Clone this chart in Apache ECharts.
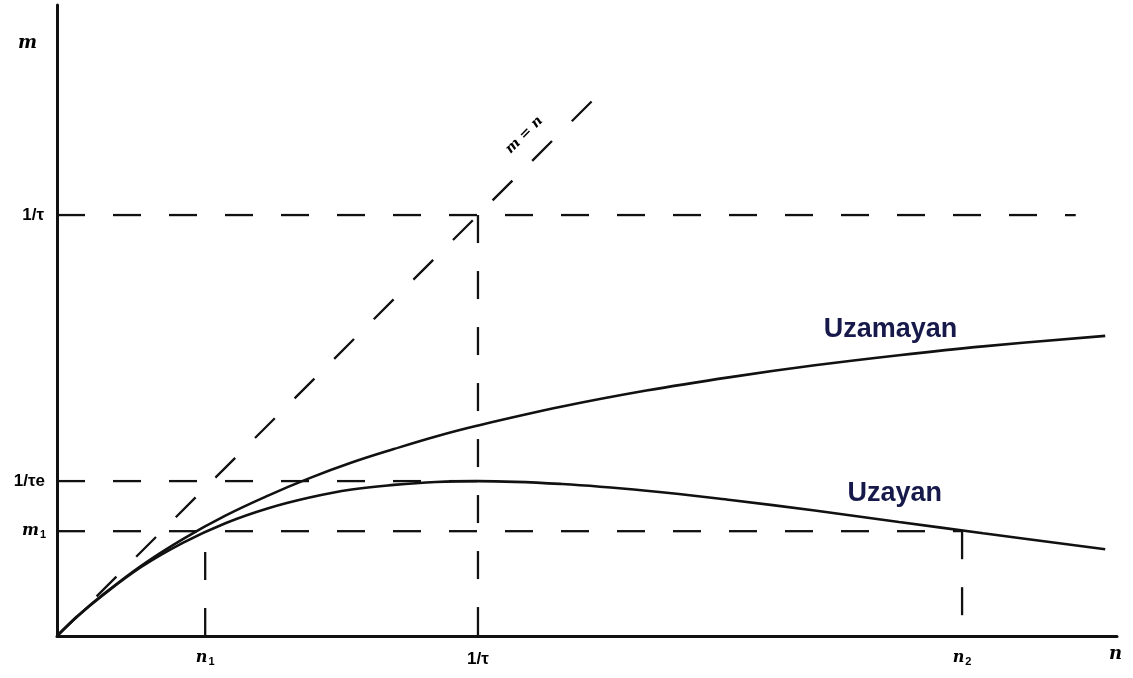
<!DOCTYPE html>
<html>
<head>
<meta charset="utf-8">
<script src="https://cdn.jsdelivr.net/npm/echarts@6/dist/echarts.min.js"></script>
<style>
  html, body { margin: 0; padding: 0; background: #fff; }
  #chart { width: 1133px; height: 678px; }
</style>
</head>
<body>
<div id="chart"></div>
<script>
// Dead-time counting models: recorded rate m versus true rate n (units of 1/τ)
const nValues = [0, 0.05, 0.1, 0.2, 0.3, 0.4, 0.5, 0.6, 0.7, 0.8, 0.9, 1.0, 1.2, 1.4, 1.6, 1.8, 2.0, 2.2, 2.49];
// Non-paralyzable ("Uzamayan") curve
const uzamayan = [0, 0.048, 0.091, 0.167, 0.231, 0.286, 0.333, 0.375, 0.412, 0.444, 0.474, 0.500, 0.545, 0.583, 0.615, 0.643, 0.667, 0.688, 0.713];
// Paralyzable ("Uzayan") curve
const uzayan = [0, 0.048, 0.090, 0.164, 0.222, 0.268, 0.303, 0.329, 0.348, 0.359, 0.366, 0.368, 0.361, 0.345, 0.323, 0.298, 0.271, 0.244, 0.206];

// Marked levels
const invTau = 1.0;       // 1/τ
const invTauE = 0.368;    // 1/τe
const m1 = 0.249;         // m₁
const n1 = 0.352;         // n₁
const n2 = 2.15;          // n₂
const identityEnd = 1.29; // end of the m = n guide
const refLineEnd = 2.42;  // end of the 1/τ horizontal guide

const xMax = 2.518;
const yMax = 1.499;

const curveA = nValues.map((n, i) => [n, uzamayan[i]]);
const curveB = nValues.map((n, i) => [n, uzayan[i]]);

const dash = { color: '#111', width: 2.3, type: [28, 28], cap: 'butt' };
const solid = { color: '#111', width: 2.6 };

function guide(data) {
  return { type: 'line', data, symbol: 'none', lineStyle: dash, silent: true, z: 3 };
}

const tickFont = { fontFamily: 'Liberation Sans', fontWeight: 'bold', fontSize: 17, color: '#000' };
const italFont = { fontFamily: 'DejaVu Serif', fontStyle: 'italic', fontWeight: 'bold', fontSize: 16, color: '#000' };

// invisible anchor point carrying a text label at data coordinates
function textMark(x, y, text, pos, dist, labelExtra) {
  return {
    type: 'scatter', symbolSize: 0, silent: true, z: 5,
    itemStyle: { opacity: 1 },
    data: [[x, y]],
    label: Object.assign({ show: true, position: pos, distance: dist, formatter: text }, tickFont, labelExtra || {})
  };
}

const subRich = {
  rich: {
    v: italFont,
    s: { fontFamily: 'Liberation Sans', fontWeight: 'bold', fontSize: 11, color: '#000', padding: [8, 0, 0, 1] }
  }
};

const nameFont = { fontFamily: 'Liberation Sans', fontWeight: 'bold', fontSize: 27, color: '#16194a' };

const chart = echarts.init(document.getElementById('chart'));
chart.setOption({
  animation: false,
  backgroundColor: '#fff',
  grid: { left: 57, right: 16, top: 5, bottom: 42 },
  xAxis: {
    type: 'value', min: 0, max: xMax,
    axisLine: { show: true, onZero: false, lineStyle: { color: '#111', width: 3 } },
    axisTick: { show: false }, axisLabel: { show: false }, splitLine: { show: false }
  },
  yAxis: {
    type: 'value', min: 0, max: yMax,
    axisLine: { show: true, onZero: false, lineStyle: { color: '#111', width: 3 } },
    axisTick: { show: false }, axisLabel: { show: false }, splitLine: { show: false }
  },
  series: [
    // guides
    guide([[0, 0], [identityEnd, identityEnd]]),
    guide([[0, invTau], [refLineEnd, invTau]]),
    guide([[invTau, invTau], [invTau, 0]]),
    guide([[0, invTauE], [invTau, invTauE]]),
    guide([[0, m1], [n2, m1]]),
    guide([[n1, 0], [n1, m1]]),
    guide([[n2, m1], [n2, 0]]),
    // curves
    { type: 'line', data: curveA, smooth: 0.4, symbol: 'none', lineStyle: solid, z: 4 },
    { type: 'line', data: curveB, smooth: 0.4, symbol: 'none', lineStyle: solid, z: 4 },
    // y-axis level labels
    textMark(0, invTau, '1/τ', 'left', 13),
    textMark(0, invTauE, '1/τe', 'left', 12),
    textMark(0, m1, '{v|m}{s|1}', 'left', 11, subRich),
    // x-axis level labels
    textMark(n1, 0, '{v|n}{s|1}', 'bottom', 12, subRich),
    textMark(invTau, 0, '1/τ', 'bottom', 15),
    textMark(n2, 0, '{v|n}{s|2}', 'bottom', 12, subRich),
    // curve names
    textMark(1.98, 0.728, 'Uzamayan', 'inside', 0, nameFont),
    textMark(1.99, 0.339, 'Uzayan', 'inside', 0, nameFont),
    // identity line label, set along the 45° guide
    textMark(1.11, 1.19, 'm = n', 'inside', 0, {
      rotate: 45, fontFamily: 'DejaVu Serif', fontStyle: 'italic', fontWeight: 'bold', fontSize: 14, color: '#000'
    })
  ],
  graphic: [
    { type: 'text', left: 18, top: 34, style: { text: 'm', font: 'italic bold 18px "DejaVu Serif"', fill: '#000' } },
    { type: 'text', left: 1109, top: 645, style: { text: 'n', font: 'italic bold 18px "DejaVu Serif"', fill: '#000' } }
  ]
});
</script>
</body>
</html>
